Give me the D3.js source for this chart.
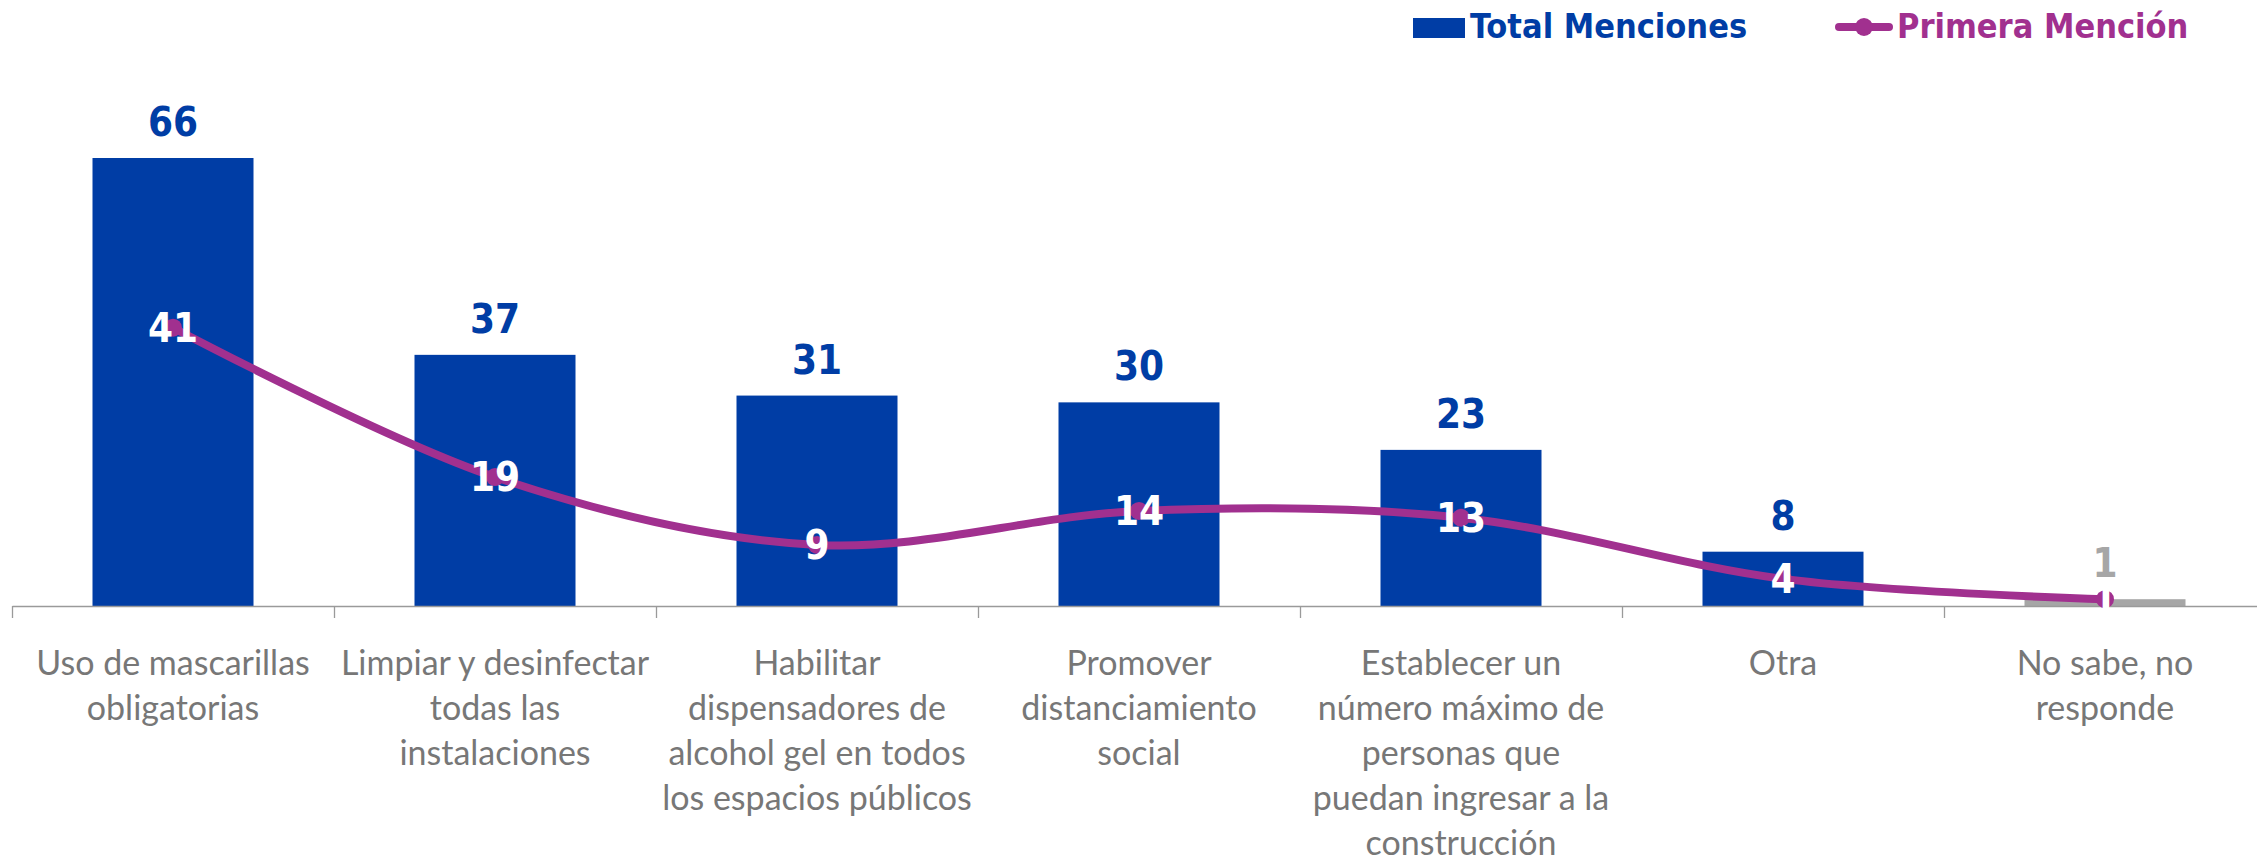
<!DOCTYPE html>
<html>
<head>
<meta charset="utf-8">
<script src="https://cdn.jsdelivr.net/npm/d3@7"></script>
<style>
  body { margin: 0; background: #fff; }
  .num { font-family: "DejaVu Sans Condensed", "DejaVu Sans", sans-serif; font-stretch: condensed; font-weight: bold; }
  .cat { font-family: Lato, "Open Sans", sans-serif; }
</style>
</head>
<body>
<script>
  // data
  const categories = [
    "Uso de mascarillas\nobligatorias",
    "Limpiar y desinfectar\ntodas las\ninstalaciones",
    "Habilitar\ndispensadores de\nalcohol gel en todos\nlos espacios públicos",
    "Promover\ndistanciamiento\nsocial",
    "Establecer un\nnúmero máximo de\npersonas que\npuedan ingresar a la\nconstrucción",
    "Otra",
    "No sabe, no\nresponde"
  ];
  const totalMenciones = [66, 37, 31, 30, 23, 8, 1];
  const primeraMencion = [41, 19, 9, 14, 13, 4, 1];
  const seriesNames = ["Total Menciones", "Primera Mención"];

  const W = 2257, H = 865;
  const blue = "#003DA5", purple = "#A1308F", grey = "#A6A6A6";

  const svg = d3.select("body").append("svg")
    .attr("width", W)
    .attr("height", H);

  const x = d3.scaleBand()
    .domain(d3.range(categories.length))
    .range([12, 2266])
    .paddingInner(0.5)
    .paddingOuter(0.25);

  const y = d3.scaleLinear()
    .domain([0, 66])
    .range([606, 158]);

  const cx = i => x(i) + x.bandwidth() / 2;

  // bars
  svg.selectAll("rect.bar")
    .data(totalMenciones)
    .enter().append("rect")
      .attr("class", "bar")
      .attr("x", (d, i) => x(i))
      .attr("y", d => y(d))
      .attr("width", x.bandwidth())
      .attr("height", d => y(0) - y(d))
      .attr("fill", (d, i) => i === categories.length - 1 ? grey : blue);

  // axis, ticks at band boundaries
  const edges = d3.scaleLinear().domain([0, categories.length]).range(x.range());
  const axis = svg.append("g")
    .attr("transform", `translate(0,${y(0)})`)
    .call(d3.axisBottom(edges).ticks(categories.length).tickFormat("").tickSizeInner(12).tickSizeOuter(0));
  axis.select(".domain").attr("stroke", "#9a9a9a").attr("stroke-width", 1.3);
  axis.selectAll(".tick line").attr("stroke", "#9a9a9a").attr("stroke-width", 1.3);

  // bar labels
  svg.selectAll("text.barlab")
    .data(totalMenciones)
    .enter().append("text")
      .attr("class", "num")
      .attr("x", (d, i) => cx(i))
      .attr("y", d => y(d) - 22)
      .attr("text-anchor", "middle")
      .attr("font-size", 40)
      .attr("fill", (d, i) => i === categories.length - 1 ? grey : blue)
      .text(d => d);

  // line
  const line = d3.line()
    .x((d, i) => cx(i))
    .y(d => y(d))
    .curve(d3.curveCardinal.tension(0));

  svg.append("path")
    .datum(primeraMencion)
    .attr("d", line)
    .attr("fill", "none")
    .attr("stroke", purple)
    .attr("stroke-width", 8)
    .attr("stroke-linecap", "round");

  svg.selectAll("circle.pt")
    .data(primeraMencion)
    .enter().append("circle")
      .attr("cx", (d, i) => cx(i))
      .attr("cy", d => y(d))
      .attr("r", 9)
      .attr("fill", purple);

  svg.selectAll("text.linelab")
    .data(primeraMencion)
    .enter().append("text")
      .attr("class", "num")
      .attr("x", (d, i) => cx(i))
      .attr("y", d => y(d))
      .attr("dy", "0.36em")
      .attr("text-anchor", "middle")
      .attr("font-size", 40)
      .attr("fill", "#fff")
      .text(d => d);

  // category labels
  svg.selectAll("text.cat")
    .data(categories)
    .enter().append("text")
      .attr("class", "cat")
      .attr("text-anchor", "middle")
      .attr("font-size", 34)
      .attr("fill", "#777")
      .each(function(d, i) {
        d3.select(this).selectAll("tspan")
          .data(d.split("\n"))
          .enter().append("tspan")
            .attr("x", cx(i))
            .attr("y", (s, j) => 675 + j * 45)
            .text(s => s);
      });

  // legend
  const leg = svg.append("g");
  leg.append("rect")
    .attr("x", 1413).attr("y", 18)
    .attr("width", 52).attr("height", 20)
    .attr("fill", blue);
  leg.append("text")
    .attr("class", "num")
    .attr("x", 1470).attr("y", 38)
    .attr("font-size", 34)
    .attr("fill", blue)
    .text(seriesNames[0]);

  leg.append("line")
    .attr("x1", 1839).attr("x2", 1889)
    .attr("y1", 27).attr("y2", 27)
    .attr("stroke", purple)
    .attr("stroke-width", 8)
    .attr("stroke-linecap", "round");
  leg.append("circle")
    .attr("cx", 1864).attr("cy", 27)
    .attr("r", 9)
    .attr("fill", purple);
  leg.append("text")
    .attr("class", "num")
    .attr("x", 1897).attr("y", 38)
    .attr("font-size", 34)
    .attr("fill", purple)
    .text(seriesNames[1]);
</script>
</body>
</html>
